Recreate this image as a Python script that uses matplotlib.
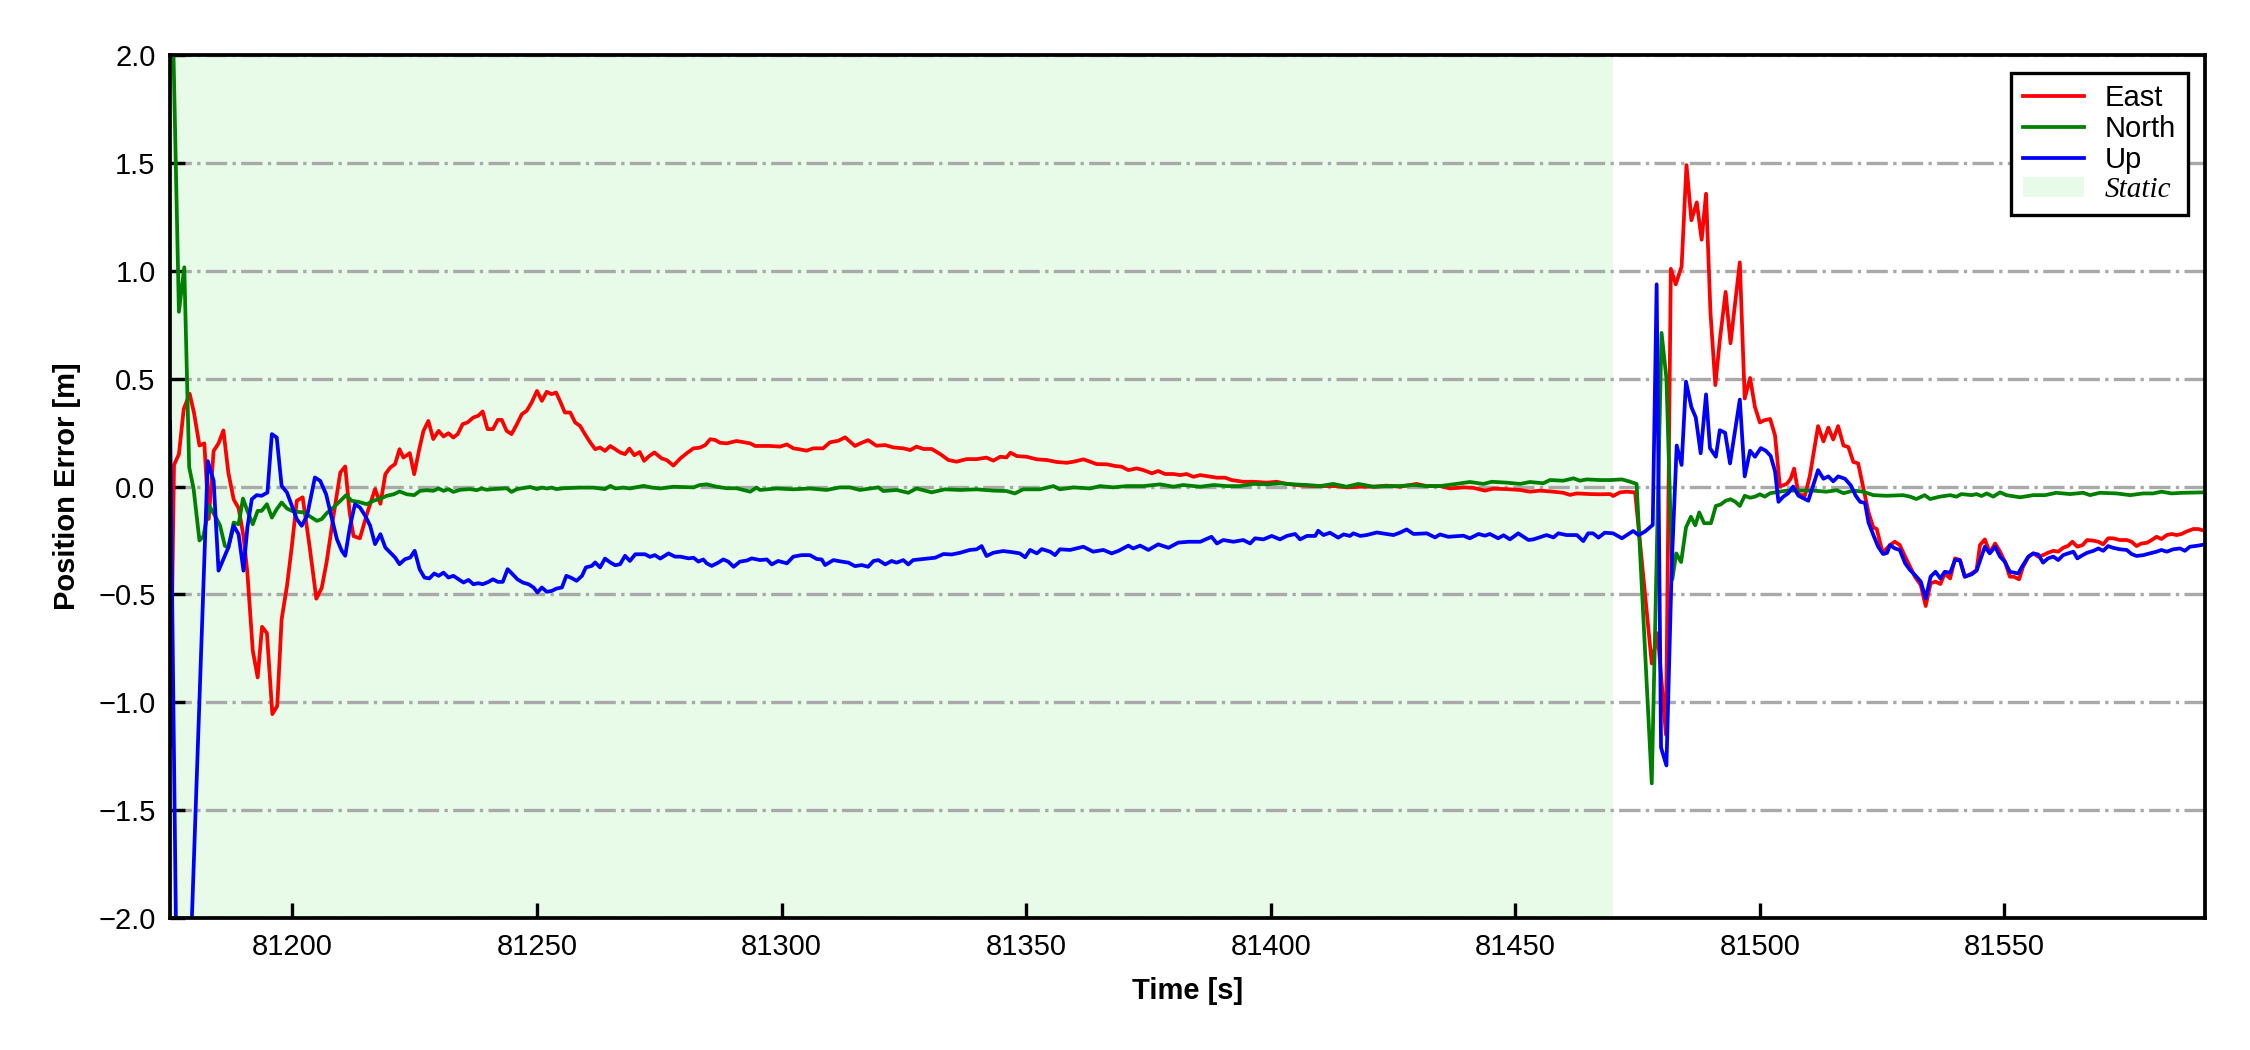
import numpy as np
import matplotlib
matplotlib.use("Agg")
import matplotlib.pyplot as plt

plt.rcParams['font.family'] = ['Liberation Sans', 'DejaVu Sans']

# East error (time [s], error [m])
t_east = [81175.0, 81175.8, 81176.8, 81177.8, 81179.0, 81179.9, 81181.0, 81182.0, 81182.9, 81183.9,
          81184.9, 81185.9, 81186.9, 81188.0, 81189.0, 81190.0, 81190.8, 81191.9, 81192.9, 81193.8,
          81194.8, 81195.9, 81196.9, 81197.8, 81198.9, 81199.9, 81200.9, 81202.1, 81203.5, 81204.9,
          81206.0, 81207.0, 81208.3, 81209.8, 81210.8, 81211.7, 81212.5, 81213.8, 81215.2, 81216.9,
          81218.0, 81219.0, 81220.0, 81221.0, 81221.9, 81222.7, 81224.0, 81224.9, 81226.0, 81226.8,
          81227.8, 81228.8, 81229.9, 81230.9, 81231.9, 81232.9, 81233.8, 81234.8, 81235.8, 81237.0,
          81238.0, 81238.9, 81239.9, 81241.0, 81242.0, 81242.8, 81243.8, 81244.8, 81245.9, 81246.9,
          81247.9, 81248.9, 81250.0, 81251.0, 81252.0, 81253.0, 81253.9, 81254.7, 81255.7, 81256.8,
          81257.8, 81258.8, 81259.8, 81260.9, 81261.9, 81262.9, 81263.9, 81265.0, 81266.0, 81267.0,
          81268.0, 81268.9, 81269.9, 81271.0, 81271.9, 81273.0, 81274.0, 81275.5, 81276.5, 81277.9,
          81279.3, 81280.6, 81282.0, 81283.3, 81284.4, 81285.4, 81286.4, 81287.4, 81288.8, 81290.8,
          81293.6, 81294.6, 81295.6, 81297.6, 81299.7, 81301.1, 81302.4, 81303.8, 81305.1, 81306.5,
          81308.5, 81309.9, 81311.6, 81313.0, 81315.0, 81316.4, 81317.7, 81319.4, 81321.2, 81322.9,
          81324.9, 81326.3, 81327.6, 81329.0, 81330.7, 81332.4, 81334.1, 81335.8, 81337.8, 81339.9,
          81341.9, 81343.3, 81344.7, 81346.0, 81346.8, 81348.1, 81350.1, 81352.2, 81354.2, 81356.2,
          81358.3, 81359.7, 81361.7, 81363.1, 81364.4, 81366.5, 81368.2, 81369.5, 81370.9, 81372.6,
          81374.0, 81375.7, 81377.0, 81378.4, 81380.1, 81381.5, 81382.8, 81384.2, 81385.6, 81387.6,
          81389.0, 81390.7, 81392.0, 81394.4, 81396.5, 81399.2, 81401.2, 81403.3, 81406.0, 81408.7,
          81411.4, 81413.5, 81415.5, 81418.3, 81421.0, 81423.7, 81426.4, 81429.8, 81431.9, 81434.6,
          81436.7, 81439.4, 81441.4, 81443.8, 81445.5, 81448.2, 81451.0, 81453.0, 81455.1, 81457.8,
          81459.8, 81461.2, 81462.5, 81465.3, 81467.3, 81469.4, 81470.0, 81471.4, 81472.8, 81474.5,
          81477.9, 81479.1, 81480.8, 81481.8, 81482.8, 81484.0, 81485.0, 81486.0, 81487.1, 81488.1,
          81489.0, 81489.9, 81490.9, 81491.8, 81493.0, 81494.0, 81495.9, 81496.9, 81498.0, 81499.0,
          81500.0, 81501.0, 81502.1, 81503.1, 81504.1, 81505.5, 81506.3, 81507.0, 81507.9, 81509.2,
          81510.2, 81511.9, 81513.0, 81514.0, 81515.0, 81516.0, 81517.1, 81518.1, 81519.1, 81520.1,
          81521.1, 81522.2, 81523.2, 81523.9, 81525.1, 81526.6, 81527.6, 81528.6, 81529.7, 81530.7,
          81531.7, 81532.9, 81533.9, 81534.9, 81535.9, 81536.9, 81537.8, 81538.9, 81539.9, 81540.9,
          81541.9, 81543.3, 81544.3, 81545.0, 81546.0, 81547.0, 81548.1, 81549.1, 81550.1, 81551.1,
          81551.9, 81553.0, 81553.8, 81554.9, 81555.9, 81556.9, 81557.9, 81558.9, 81560.0, 81561.0,
          81562.0, 81563.0, 81563.9, 81564.9, 81566.0, 81566.9, 81568.2, 81569.2, 81570.2, 81571.2,
          81572.2, 81573.6, 81575.0, 81576.0, 81577.0, 81578.0, 81579.1, 81580.1, 81581.1, 81582.1,
          81583.2, 81584.2, 81585.2, 81586.2, 81587.2, 81588.6, 81589.6, 81591.0]
east = [-1.2, 0.10, 0.15, 0.36, 0.43, 0.34, 0.19, 0.20, -0.15, 0.165,
        0.20, 0.26, 0.065, -0.06, -0.10, -0.23, -0.40, -0.76, -0.885, -0.65,
        -0.68, -1.055, -1.017, -0.615, -0.46, -0.275, -0.066, -0.05, -0.275, -0.52,
        -0.47, -0.35, -0.15, 0.065, 0.093, -0.12, -0.23, -0.24, -0.13, -0.012,
        -0.08, 0.057, 0.088, 0.104, 0.173, 0.134, 0.155, 0.057, 0.18, 0.258,
        0.304, 0.22, 0.258, 0.232, 0.247, 0.227, 0.243, 0.289, 0.297, 0.32,
        0.328, 0.348, 0.266, 0.266, 0.309, 0.309, 0.258, 0.243, 0.289, 0.335,
        0.351, 0.389, 0.443, 0.397, 0.439, 0.428, 0.436, 0.397, 0.343, 0.343,
        0.297, 0.281, 0.243, 0.204, 0.173, 0.181, 0.165, 0.188, 0.173, 0.158,
        0.15, 0.176, 0.145, 0.16, 0.119, 0.142, 0.158, 0.13, 0.123, 0.097,
        0.13, 0.154, 0.177, 0.18, 0.192, 0.219, 0.216, 0.203, 0.20, 0.211,
        0.20, 0.188, 0.188, 0.188, 0.185, 0.195, 0.177, 0.172, 0.166, 0.177,
        0.177, 0.205, 0.212, 0.228, 0.188, 0.203, 0.215, 0.189, 0.192, 0.181,
        0.177, 0.169, 0.185, 0.174, 0.174, 0.151, 0.123, 0.115, 0.127, 0.127,
        0.134, 0.12, 0.138, 0.135, 0.157, 0.141, 0.138, 0.126, 0.123, 0.114,
        0.11, 0.115, 0.126, 0.115, 0.104, 0.103, 0.095, 0.092, 0.076, 0.084,
        0.076, 0.061, 0.072, 0.058, 0.058, 0.053, 0.058, 0.045, 0.053, 0.046,
        0.041, 0.041, 0.030, 0.022, 0.022, 0.018, 0.022, 0.012, 0.005, 0.002,
        0.002, 0.002, -0.004, -0.001, -0.001, 0.004, -0.001, 0.012, 0.002, 0.002,
        -0.009, -0.004, -0.006, -0.019, -0.010, -0.012, -0.016, -0.024, -0.019, -0.024,
        -0.029, -0.039, -0.032, -0.035, -0.036, -0.035, -0.044, -0.027, -0.024, -0.027,
        -0.82, -0.68, -1.15, 1.009, 0.937, 1.02, 1.49, 1.234, 1.317, 1.144,
        1.357, 0.807, 0.47, 0.676, 0.902, 0.664, 1.039, 0.408, 0.503, 0.368,
        0.297, 0.308, 0.313, 0.237, 0.0, 0.012, 0.036, 0.083, -0.036, -0.043,
        0.047, 0.28, 0.209, 0.273, 0.218, 0.28, 0.19, 0.183, 0.114, 0.107,
        0.0, -0.119, -0.19, -0.197, -0.308, -0.271, -0.256, -0.271, -0.325, -0.372,
        -0.418, -0.457, -0.554, -0.449, -0.441, -0.452, -0.403, -0.426, -0.333, -0.341,
        -0.418, -0.403, -0.387, -0.271, -0.245, -0.307, -0.264, -0.302, -0.349, -0.418,
        -0.418, -0.430, -0.372, -0.325, -0.310, -0.325, -0.318, -0.307, -0.298, -0.302,
        -0.284, -0.275, -0.256, -0.279, -0.271, -0.248, -0.251, -0.256, -0.268, -0.240,
        -0.240, -0.248, -0.248, -0.256, -0.276, -0.264, -0.261, -0.248, -0.233, -0.243,
        -0.225, -0.220, -0.225, -0.220, -0.209, -0.197, -0.197, -0.206]

# North error
t_north = [81175.0, 81176.8, 81177.9, 81178.9, 81179.8, 81181.0, 81181.8, 81183.0, 81184.2, 81185.2,
           81186.2, 81186.9, 81188.0, 81189.0, 81189.9, 81190.8, 81191.9, 81192.9, 81193.7, 81194.8,
           81195.8, 81196.8, 81197.8, 81198.9, 81199.9, 81200.9, 81202.3, 81203.6, 81205.0, 81206.0,
           81207.0, 81208.4, 81209.8, 81211.0, 81212.1, 81213.5, 81215.2, 81216.6, 81218.0, 81219.3,
           81220.7, 81221.9, 81223.4, 81224.9, 81226.1, 81227.5, 81228.8, 81229.9, 81230.9, 81231.9,
           81232.9, 81234.3, 81236.3, 81237.7, 81238.7, 81239.7, 81241.1, 81243.8, 81244.8, 81245.9,
           81248.6, 81250.0, 81251.0, 81252.0, 81253.0, 81254.0, 81255.4, 81258.8, 81261.5, 81263.9,
           81265.0, 81266.0, 81267.7, 81269.0, 81271.8, 81273.5, 81275.2, 81277.9, 81282.0, 81283.3,
           81284.7, 81286.7, 81288.8, 81290.8, 81293.6, 81294.9, 81295.6, 81299.0, 81302.4, 81305.8,
           81309.2, 81311.9, 81314.0, 81316.0, 81319.8, 81320.8, 81323.5, 81325.9, 81327.6, 81330.7,
           81333.4, 81336.5, 81339.9, 81343.3, 81346.0, 81347.7, 81349.4, 81352.8, 81355.6, 81356.9,
           81359.7, 81363.1, 81365.1, 81367.8, 81370.6, 81374.0, 81377.4, 81380.1, 81382.1, 81384.2,
           81385.6, 81388.3, 81391.0, 81393.7, 81396.5, 81399.2, 81401.9, 81404.6, 81407.4, 81410.1,
           81412.8, 81415.5, 81417.9, 81421.0, 81423.7, 81426.4, 81429.2, 81431.9, 81434.6, 81437.3,
           81440.7, 81443.5, 81445.2, 81448.2, 81451.0, 81453.0, 81455.7, 81457.1, 81459.8, 81461.9,
           81463.2, 81464.6, 81467.3, 81469.4, 81471.8, 81473.5, 81474.8, 81477.9, 81479.9, 81480.9,
           81482.1, 81482.9, 81483.9, 81484.9, 81485.9, 81486.8, 81487.6, 81488.6, 81490.0, 81491.0,
           81492.0, 81493.0, 81494.0, 81495.0, 81495.9, 81496.9, 81498.0, 81499.0, 81500.0, 81501.0,
           81502.1, 81504.1, 81505.5, 81508.2, 81510.9, 81513.6, 81515.7, 81517.1, 81519.1, 81521.1,
           81523.2, 81525.9, 81529.3, 81530.7, 81532.0, 81533.7, 81534.8, 81536.8, 81538.9, 81540.2,
           81541.2, 81543.3, 81544.3, 81545.3, 81546.4, 81547.7, 81549.1, 81550.4, 81553.2, 81555.9,
           81558.3, 81560.6, 81563.4, 81566.1, 81567.5, 81569.5, 81572.9, 81575.7, 81578.4, 81580.4,
           81582.1, 81584.2, 81586.6, 81591.0]
north = [2.75, 0.81, 1.016, 0.09, -0.01, -0.25, -0.23, -0.09, -0.136, -0.18,
         -0.275, -0.283, -0.167, -0.175, -0.056, -0.113, -0.175, -0.113, -0.113, -0.082,
         -0.144, -0.105, -0.074, -0.102, -0.113, -0.117, -0.12, -0.139, -0.159, -0.151,
         -0.124, -0.097, -0.066, -0.04, -0.066, -0.071, -0.082, -0.066, -0.056, -0.043,
         -0.036, -0.023, -0.036, -0.04, -0.02, -0.017, -0.02, -0.009, -0.02, -0.012,
         -0.025, -0.015, -0.012, -0.017, -0.009, -0.015, -0.012, -0.008, -0.025, -0.012,
         -0.002, -0.012, -0.005, -0.009, -0.005, -0.012, -0.008, -0.005, -0.005, -0.012,
         0.003, -0.009, -0.005, -0.009, 0.003, -0.005, -0.009, -0.001, -0.004, 0.007,
         0.010, -0.001, -0.008, -0.008, -0.024, -0.005, -0.016, -0.009, -0.013, -0.009,
         -0.016, -0.004, -0.004, -0.016, -0.004, -0.021, -0.016, -0.029, -0.009, -0.027,
         -0.013, -0.016, -0.013, -0.019, -0.021, -0.032, -0.013, -0.013, 0.002, -0.013,
         -0.004, -0.009, 0.002, -0.004, 0.002, 0.002, 0.010, -0.001, 0.007, 0.002,
         -0.001, 0.007, 0.002, 0.002, 0.012, 0.010, 0.015, 0.010, 0.007, 0.002,
         0.012, -0.001, 0.012, -0.001, 0.002, 0.002, 0.007, 0.002, 0.002, 0.010,
         0.021, 0.012, 0.022, 0.018, 0.012, 0.021, 0.015, 0.030, 0.027, 0.038,
         0.027, 0.033, 0.030, 0.030, 0.033, 0.022, 0.012, -1.376, 0.712, 0.50,
         -0.43, -0.31, -0.35, -0.19, -0.14, -0.18, -0.12, -0.17, -0.17, -0.09,
         -0.083, -0.066, -0.059, -0.071, -0.09, -0.043, -0.052, -0.047, -0.036, -0.047,
         -0.031, -0.024, -0.019, -0.019, -0.019, -0.024, -0.017, -0.031, -0.019, -0.024,
         -0.040, -0.043, -0.04, -0.047, -0.058, -0.04, -0.058, -0.047, -0.04, -0.047,
         -0.035, -0.04, -0.035, -0.044, -0.032, -0.047, -0.027, -0.04, -0.05, -0.04,
         -0.04, -0.029, -0.035, -0.029, -0.04, -0.029, -0.032, -0.04, -0.032, -0.032,
         -0.024, -0.032, -0.029, -0.027]

# Up error
t_up = [81175.0, 81177.0, 81182.7, 81183.9, 81184.9, 81185.9, 81186.9, 81188.0, 81189.0, 81190.0,
        81190.8, 81191.7, 81192.7, 81193.7, 81194.9, 81195.8, 81196.8, 81197.8, 81198.9, 81199.9,
        81200.9, 81201.9, 81203.0, 81204.6, 81205.7, 81206.9, 81208.1, 81209.1, 81210.1, 81210.8,
        81211.8, 81212.8, 81213.8, 81214.9, 81215.9, 81216.9, 81218.0, 81219.0, 81220.0, 81221.0,
        81221.9, 81223.0, 81224.1, 81225.0, 81226.0, 81227.0, 81228.0, 81229.0, 81229.9, 81230.9,
        81231.9, 81232.9, 81234.0, 81235.0, 81236.0, 81237.0, 81238.0, 81238.9, 81240.1, 81241.0,
        81242.0, 81243.0, 81244.0, 81245.0, 81246.0, 81247.1, 81248.3, 81249.3, 81250.1, 81251.0,
        81252.0, 81253.0, 81254.0, 81255.1, 81256.0, 81256.9, 81258.1, 81259.2, 81260.0, 81261.2,
        81261.9, 81262.9, 81263.9, 81265.0, 81266.0, 81267.0, 81268.0, 81269.0, 81270.1, 81271.1,
        81272.1, 81273.1, 81274.1, 81275.2, 81276.9, 81278.2, 81279.3, 81281.0, 81282.0, 81283.0,
        81284.0, 81284.7, 81285.7, 81286.8, 81288.1, 81289.1, 81290.2, 81291.5, 81292.9, 81293.9,
        81295.6, 81297.0, 81298.0, 81299.3, 81301.1, 81302.4, 81304.1, 81305.8, 81307.2, 81308.2,
        81308.9, 81310.6, 81312.3, 81313.7, 81315.0, 81316.4, 81317.7, 81318.8, 81319.8, 81321.2,
        81322.5, 81323.5, 81324.9, 81325.9, 81326.9, 81329.0, 81331.4, 81333.1, 81334.8, 81336.5,
        81338.5, 81339.9, 81340.9, 81341.9, 81343.3, 81345.3, 81347.4, 81348.7, 81349.8, 81350.8,
        81352.2, 81353.2, 81354.9, 81355.9, 81356.9, 81359.0, 81361.7, 81363.7, 81365.8, 81367.5,
        81368.9, 81370.9, 81371.9, 81373.3, 81375.0, 81377.0, 81379.1, 81381.1, 81383.2, 81385.6,
        81387.9, 81389.0, 81390.3, 81392.4, 81394.4, 81395.8, 81396.8, 81398.5, 81400.2, 81401.9,
        81403.3, 81405.0, 81406.0, 81407.4, 81409.1, 81409.7, 81410.8, 81412.1, 81413.8, 81414.9,
        81416.2, 81416.9, 81418.3, 81419.6, 81421.7, 81423.7, 81425.1, 81426.4, 81427.8, 81429.2,
        81431.9, 81433.6, 81434.6, 81436.3, 81439.4, 81440.7, 81442.5, 81443.8, 81444.8, 81446.5,
        81447.6, 81448.9, 81450.6, 81452.7, 81453.7, 81456.4, 81457.8, 81458.8, 81460.5, 81462.6,
        81463.9, 81464.9, 81465.9, 81467.0, 81468.3, 81470.0, 81471.8, 81474.1, 81475.2, 81476.5,
        81478.1, 81478.9, 81479.8, 81480.9, 81482.0, 81483.0, 81484.0, 81484.9, 81486.0, 81486.9,
        81487.9, 81489.0, 81489.8, 81491.0, 81491.8, 81492.9, 81493.9, 81495.9, 81496.9, 81498.0,
        81499.0, 81500.2, 81501.2, 81502.2, 81503.1, 81503.8, 81504.8, 81505.8, 81506.8, 81507.9,
        81509.9, 81510.9, 81511.9, 81513.0, 81514.0, 81515.0, 81516.0, 81517.4, 81518.6, 81519.6,
        81520.5, 81521.5, 81522.2, 81523.2, 81524.2, 81525.2, 81526.0, 81526.6, 81527.6, 81528.6,
        81529.7, 81530.7, 81531.7, 81532.9, 81533.9, 81534.9, 81535.9, 81536.9, 81537.8, 81538.9,
        81539.9, 81540.9, 81541.9, 81543.3, 81544.3, 81545.3, 81546.0, 81547.0, 81548.1, 81549.1,
        81550.1, 81551.1, 81552.8, 81553.8, 81554.9, 81555.9, 81556.9, 81557.9, 81558.9, 81560.0,
        81561.0, 81562.0, 81563.0, 81564.1, 81564.9, 81566.0, 81566.9, 81568.2, 81569.2, 81570.2,
        81571.2, 81572.2, 81573.6, 81575.0, 81576.0, 81577.0, 81578.4, 81579.7, 81581.1, 81582.1,
        81583.2, 81584.5, 81585.9, 81586.9, 81587.9, 81589.6, 81591.0]
up = [0.3, -3.6, 0.118, 0.026, -0.39, -0.337, -0.283, -0.182, -0.221, -0.39,
      -0.19, -0.059, -0.04, -0.043, -0.028, 0.243, 0.227, 0.003, -0.028, -0.09,
      -0.151, -0.182, -0.136, 0.042, 0.026, -0.036, -0.151, -0.244, -0.298, -0.321,
      -0.182, -0.082, -0.097, -0.136, -0.182, -0.267, -0.221, -0.283, -0.306, -0.329,
      -0.36, -0.337, -0.329, -0.298, -0.383, -0.422, -0.426, -0.403, -0.414, -0.399,
      -0.422, -0.414, -0.43, -0.445, -0.433, -0.453, -0.448, -0.453, -0.442, -0.43,
      -0.442, -0.442, -0.383, -0.406, -0.43, -0.445, -0.453, -0.468, -0.491, -0.468,
      -0.488, -0.484, -0.473, -0.468, -0.414, -0.422, -0.437, -0.414, -0.375, -0.368,
      -0.352, -0.375, -0.334, -0.352, -0.365, -0.36, -0.321, -0.345, -0.314, -0.314,
      -0.314, -0.326, -0.318, -0.334, -0.310, -0.325, -0.325, -0.333, -0.330, -0.348,
      -0.338, -0.356, -0.368, -0.356, -0.338, -0.348, -0.372, -0.348, -0.343, -0.333,
      -0.341, -0.338, -0.361, -0.345, -0.356, -0.325, -0.318, -0.318, -0.336, -0.338,
      -0.364, -0.341, -0.348, -0.353, -0.369, -0.364, -0.372, -0.345, -0.341, -0.361,
      -0.345, -0.353, -0.341, -0.361, -0.341, -0.336, -0.330, -0.313, -0.315, -0.307,
      -0.294, -0.291, -0.276, -0.322, -0.307, -0.299, -0.305, -0.310, -0.328, -0.294,
      -0.310, -0.290, -0.302, -0.318, -0.291, -0.294, -0.279, -0.302, -0.294, -0.310,
      -0.298, -0.274, -0.287, -0.274, -0.294, -0.268, -0.284, -0.260, -0.256, -0.256,
      -0.233, -0.264, -0.248, -0.256, -0.248, -0.264, -0.240, -0.245, -0.229, -0.245,
      -0.229, -0.220, -0.245, -0.229, -0.229, -0.205, -0.225, -0.214, -0.237, -0.222,
      -0.229, -0.217, -0.229, -0.225, -0.213, -0.220, -0.225, -0.214, -0.199, -0.220,
      -0.217, -0.236, -0.222, -0.233, -0.228, -0.240, -0.220, -0.228, -0.220, -0.240,
      -0.226, -0.245, -0.217, -0.248, -0.245, -0.225, -0.236, -0.217, -0.225, -0.225,
      -0.253, -0.217, -0.217, -0.237, -0.214, -0.217, -0.240, -0.206, -0.225, -0.209,
      -0.178, 0.937, -1.21, -1.293, -0.356, 0.19, 0.10, 0.486, 0.368, 0.32,
      0.154, 0.427, 0.178, 0.138, 0.261, 0.249, 0.107, 0.403, 0.047, 0.166,
      0.138, 0.178, 0.166, 0.142, 0.071, -0.071, -0.047, -0.031, 0.0, -0.043,
      -0.066, 0.005, 0.076, 0.036, 0.047, 0.024, 0.047, 0.036, 0.005, -0.043,
      -0.071, -0.076, -0.166, -0.225, -0.280, -0.313, -0.308, -0.271, -0.287, -0.294,
      -0.356, -0.387, -0.41, -0.441, -0.519, -0.418, -0.395, -0.426, -0.395, -0.4,
      -0.341, -0.341, -0.418, -0.407, -0.39, -0.325, -0.279, -0.310, -0.279, -0.325,
      -0.349, -0.395, -0.403, -0.364, -0.325, -0.310, -0.315, -0.353, -0.333, -0.325,
      -0.341, -0.318, -0.310, -0.302, -0.333, -0.318, -0.307, -0.298, -0.287, -0.298,
      -0.276, -0.284, -0.291, -0.294, -0.313, -0.322, -0.318, -0.310, -0.302, -0.294,
      -0.302, -0.291, -0.287, -0.298, -0.279, -0.274, -0.268]

static_end = 81470.0
x_ticks = [81200, 81250, 81300, 81350, 81400, 81450, 81500, 81550]

fig = plt.figure(figsize=(7.5, 3.5), dpi=300)
ax = fig.add_axes([0.0756, 0.1257, 0.9044, 0.8219])

ax.plot(t_east, east, color='red', lw=0.9, label='East')
ax.plot(t_north, north, color='green', lw=0.9, label='North')
ax.plot(t_up, up, color='blue', lw=0.9, label='Up')
ax.axvspan(t_east[0], static_end, color='lightgreen', alpha=0.2, lw=0, label='Static')

ax.set_xlim(81175, 81591)
ax.set_ylim(-2, 2)
ax.set_xticks(x_ticks)
ax.set_yticks(np.arange(-2, 2.01, 0.5))
ax.ticklabel_format(axis='x', useOffset=False, style='plain')
ax.yaxis.grid(True, ls='-.', lw=0.8, color='darkgray')

ax.tick_params(direction='in', length=3.5, width=0.8, labelsize=7, top=False, right=False)
for s in ax.spines.values():
    s.set_linewidth(0.9)

ax.set_xlabel('Time [s]', fontsize=7, fontweight='bold')
ax.set_ylabel('Position Error [m]', fontsize=7, fontweight='bold')

leg = ax.legend(loc='upper right', fontsize=7, fancybox=False, framealpha=1,
                edgecolor='black', labelspacing=0.1, handlelength=2.1,
                borderpad=0.4, handletextpad=0.7, borderaxespad=0.6)
leg.get_frame().set_linewidth(0.8)
leg.get_texts()[3].set_fontfamily(['Liberation Serif', 'DejaVu Serif'])
leg.get_texts()[3].set_fontstyle('italic')

fig.savefig('out.png', dpi=300)
